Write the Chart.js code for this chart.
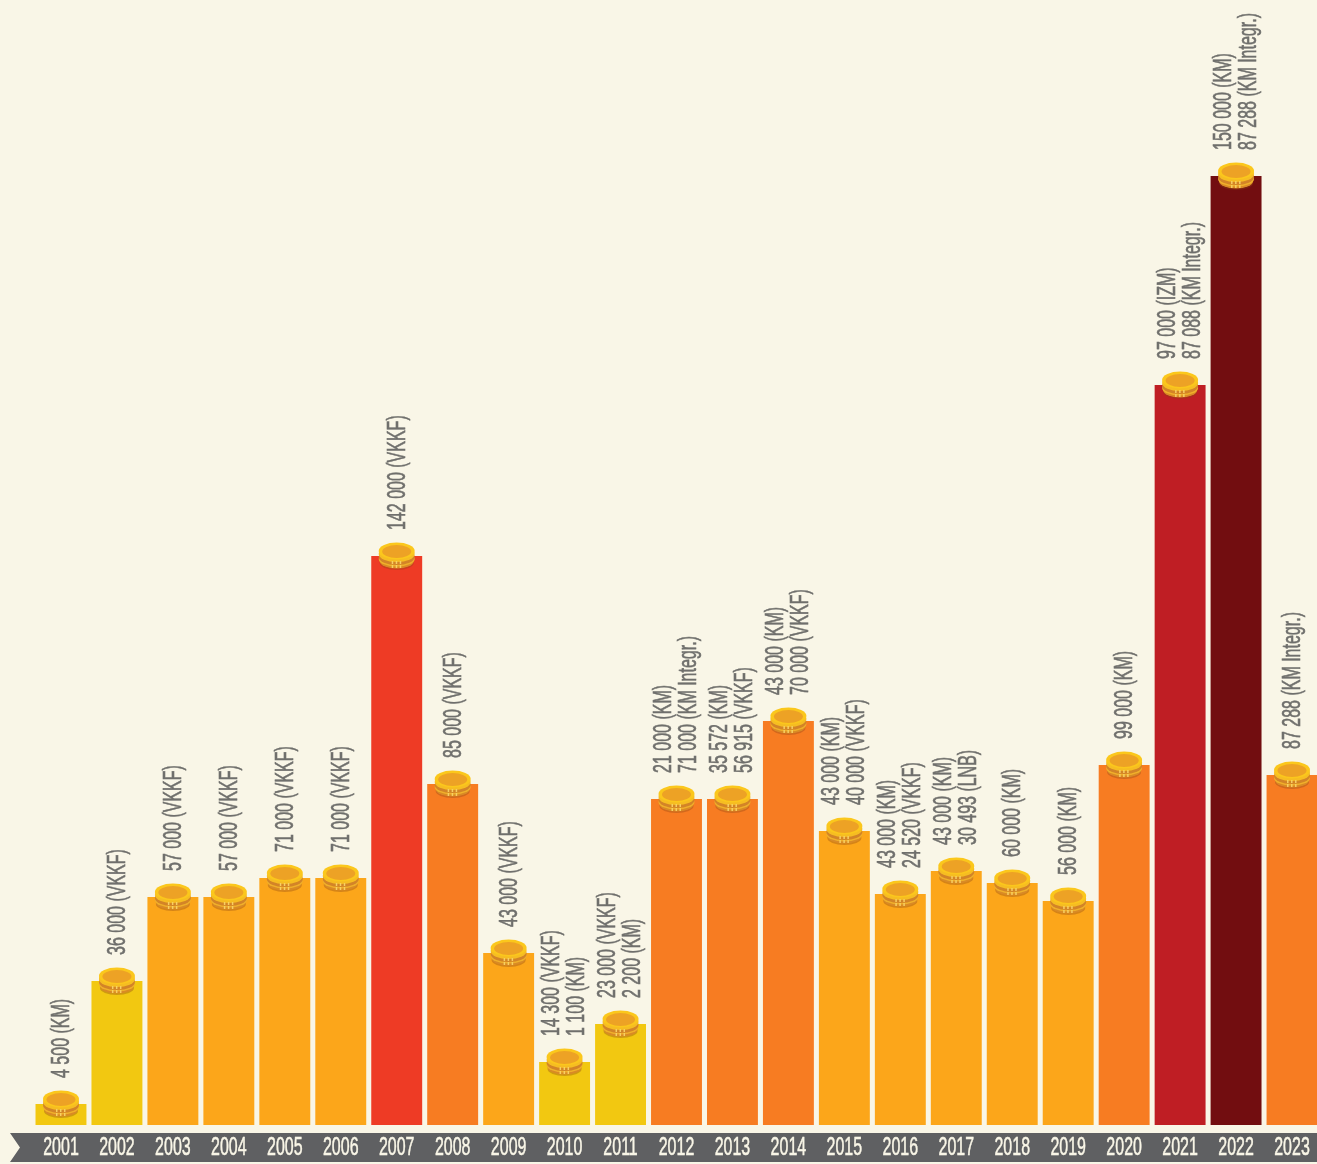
<!DOCTYPE html>
<html>
<head>
<meta charset="utf-8">
<title>Chart</title>
<script src="https://cdn.jsdelivr.net/npm/chart.js@4"></script>
<style>
  html, body { margin: 0; padding: 0; background: #f9f6e7; overflow: hidden; }
  canvas { display: block; }
</style>
</head>
<body>
<canvas id="coinChart" width="1330" height="1164"></canvas>
<script>
// Values (bar heights)
const years = ["2001","2002","2003","2004","2005","2006","2007","2008","2009","2010","2011","2012",
  "2013","2014","2015","2016","2017","2018","2019","2020","2021","2022","2023"];
const barValues = [5250, 36000, 57000, 57000, 61750, 61750, 142250, 85250, 43000, 15750, 25250, 81500,
  81500, 101000, 73500, 57750, 63500, 60500, 56000, 90000, 185000, 237250, 87500];
const barColors = ["#f2c811","#f2c811","#fca61a","#fca61a","#fca61a","#fca61a","#ee3b25","#f77c22","#fca61a",
  "#f2c811","#f2c811","#f77c22","#f77c22","#f77c22","#fca61a","#fca61a","#fca61a","#fca61a","#fca61a",
  "#f77c22","#bf1e24","#720d10","#f77c22"];
const firstLines = ["4 500 (KM)","36 000 (VKKF)","57 000 (VKKF)","57 000 (VKKF)","71 000 (VKKF)","71 000 (VKKF)",
  "142 000 (VKKF)","85 000 (VKKF)","43 000 (VKKF)","14 300 (VKKF)","23 000 (VKKF)","21 000 (KM)",
  "35 572 (KM)","43 000 (KM)","43 000 (KM)","43 000 (KM)","43 000 (KM)","60 000 (KM)","56 000 (KM)",
  "99 000 (KM)","97 000 (IZM)","150 000 (KM)","87 288 (KM Integr.)"];
const secondLines = ["","","","","","","","","","1 100 (KM)","2 200 (KM)","71 000 (KM Integr.)",
  "56 915 (VKKF)","70 000 (VKKF)","40 000 (VKKF)","24 520 (VKKF)","30 493 (LNB)","","",
  "","87 088 (KM Integr.)","87 288 (KM Integr.)",""];

const textFont = '25px "Liberation Sans Narrow", "Liberation Sans", sans-serif';
const squeeze = 0.64;

// rotated, squeezed value labels above the coins
function drawLabel(ctx, text, x, y) {
  ctx.save();
  ctx.translate(x, y);
  ctx.rotate(-Math.PI / 2);
  ctx.scale(squeeze, 1);
  ctx.font = textFont;
  ctx.fillStyle = "#6f6f6c";
  ctx.strokeStyle = "#6f6f6c";
  ctx.lineWidth = 0.6;
  ctx.textAlign = "left";
  ctx.textBaseline = "middle";
  ctx.strokeText(text, 0, 0);
  ctx.fillText(text, 0, 0);
  ctx.restore();
}

function drawCoins(ctx, x, y) {
  const oval = (cy, rx, ry, color) => {
    ctx.fillStyle = color;
    ctx.beginPath();
    ctx.ellipse(x, y + cy, rx, ry, 0, 0, Math.PI * 2);
    ctx.fill();
  };
  oval(7, 17, 7, "rgba(140,70,20,0.35)");
  oval(5, 17, 7.5, "#d98a26");
  oval(3, 18, 7.5, "#f0b02a");
  oval(1, 18, 8, "#d38427");
  oval(-2, 18, 8, "#f6bd22");
  oval(-5, 18, 8.5, "#fbc71c");
  oval(-4.5, 14.5, 6.5, "#eda225");
  // little rim marks on the front of the stack
  ctx.fillStyle = "#f7cf63";
  [-5, -1, 3].forEach(dx => {
    ctx.fillRect(x + dx, y + 5, 1.5, 3);
    ctx.fillRect(x + dx, y + 9, 1.5, 3);
  });
}

const decorations = {
  id: "decorations",
  afterDatasetsDraw(chart) {
    const ctx = chart.ctx;
    const bars = chart.getDatasetMeta(0).data;
    const xAxis = chart.scales.x;

    // ribbon behind the years
    const top = xAxis.top + 8;
    const bottom = xAxis.top + 37;
    const left = xAxis.left - 23;
    ctx.fillStyle = "#5f6062";
    ctx.beginPath();
    ctx.moveTo(left, top);
    ctx.lineTo(chart.width, top);
    ctx.lineTo(chart.width, bottom);
    ctx.lineTo(left, bottom);
    ctx.lineTo(left + 10, (top + bottom) / 2);
    ctx.closePath();
    ctx.fill();

    // year labels, squeezed to the narrow lettering of the ribbon
    xAxis.ticks.forEach((tick, i) => {
      ctx.save();
      ctx.translate(xAxis.getPixelForTick(i), (top + bottom) / 2 + 1);
      ctx.scale(squeeze, 1);
      ctx.font = textFont;
      ctx.fillStyle = "#f9f6e7";
      ctx.strokeStyle = "#f9f6e7";
      ctx.lineWidth = 0.5;
      ctx.textAlign = "center";
      ctx.textBaseline = "middle";
      ctx.strokeText(tick.label, 0, 0);
      ctx.fillText(tick.label, 0, 0);
      ctx.restore();
    });

    bars.forEach((bar, i) => {
      drawCoins(ctx, bar.x, bar.y);
      if (secondLines[i]) {
        drawLabel(ctx, firstLines[i], bar.x - 12, bar.y - 26);
        drawLabel(ctx, secondLines[i], bar.x + 13, bar.y - 26);
      } else {
        drawLabel(ctx, firstLines[i], bar.x + 1, bar.y - 26);
      }
    });
  }
};

new Chart(document.getElementById("coinChart"), {
  type: "bar",
  data: {
    labels: years,
    datasets: [{
      data: barValues,
      backgroundColor: barColors,
      barPercentage: 0.91,
      categoryPercentage: 1
    }]
  },
  options: {
    responsive: false,
    animation: false,
    layout: { padding: { left: 33, right: 10, top: 0, bottom: 0 } },
    plugins: {
      legend: { display: false },
      tooltip: { enabled: false }
    },
    scales: {
      x: {
        grid: { display: false },
        border: { display: false },
        ticks: { display: false, autoSkip: false, maxRotation: 0 },
        afterFit: scale => { scale.height = 39; }
      },
      y: {
        display: false,
        min: 0,
        max: 281250
      }
    }
  },
  plugins: [decorations]
});
</script>
</body>
</html>
